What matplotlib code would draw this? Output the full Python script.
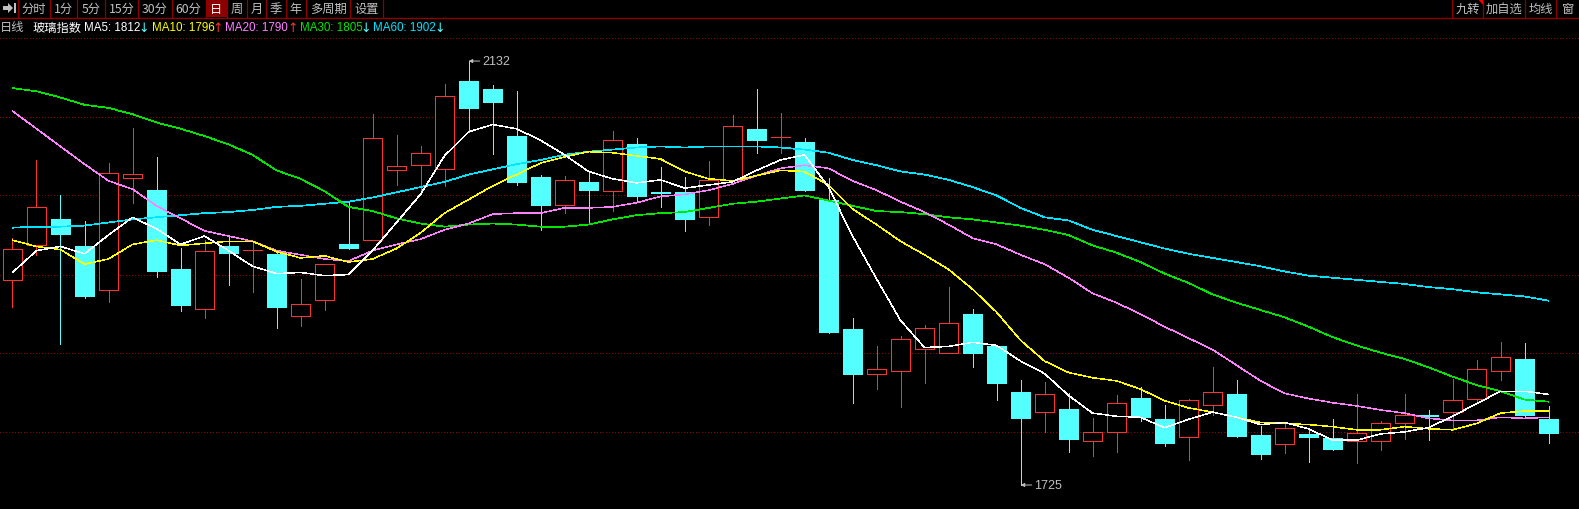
import matplotlib
matplotlib.use("Agg")
import matplotlib.pyplot as plt

plt.rcParams['font.family'] = ['Noto Sans CJK SC', 'DejaVu Sans']

# daily candles
opens = [1922,1955,1980,1954,1912,2020,2008,1932,1894,1954,1951,1947,1887,1903,1956,1960,2027,2032,2028,2113,2105,2060,
         2021,1994,2016,2007,2052,2006,2006,1982,2018,2067,2059,2054,1999,1875,1832,1834,1856,1852,1889,1858,1814,1795,
         1798,1767,1776,1809,1788,1771,1802,1812,1773,1764,1774,1770,1767,1767,1785,1792,1795,1808,1834,1846,1788]
highs = [1962,2037,2003,1978,2034,2068,2040,1953,1960,1964,1957,1950,1923,1937,1997,2081,2061,2050,2110,2132,2109,2103,
         2023,2022,2026,2065,2058,2030,2021,2036,2080,2105,2082,2058,2020,1885,1858,1868,1879,1915,1894,1858,1826,1824,
         1813,1789,1811,1819,1802,1808,1838,1826,1782,1784,1780,1788,1812,1786,1812,1797,1827,1845,1862,1861,1801]
lows = [1896,1946,1860,1905,1901,1996,1925,1892,1885,1917,1910,1876,1878,1893,1952,1960,2013,2005,2012,2064,2043,2013,
        1970,1986,1976,1988,1998,1992,1969,1975,2017,2044,2044,2007,1871,1804,1817,1800,1823,1852,1838,1807,1725,1776,
        1757,1753,1757,1786,1762,1749,1792,1771,1750,1756,1747,1759,1746,1759,1769,1768,1778,1805,1826,1789,1765]
closes = [1952,1992,1966,1906,2025,2024,1930,1898,1950,1948,1951,1896,1899,1937,1953,2058,2031,2044,2098,2087,2093,2016,
          1994,2018,2008,2056,2002,2005,1980,2018,2070,2056,2059,2008,1872,1832,1836,1865,1876,1881,1852,1823,1789,1812,
          1769,1776,1804,1790,1765,1807,1814,1772,1755,1780,1771,1760,1775,1785,1792,1791,1807,1836,1848,1792,1775]

ma5 = [1929,1950,1954,1947,1965,1982,1971,1956,1964,1950,1935,1928,1929,1926,1927,1950,1977,2004,2041,2064,2071,2067,
       2056,2042,2026,2019,2015,2018,2010,2013,2016,2027,2037,2042,2011,1964,1923,1883,1857,1858,1862,1859,1844,1832,
       1811,1794,1791,1790,1780,1788,1795,1790,1783,1785,1779,1768,1768,1774,1776,1780,1791,1803,1815,1815,1812]
ma10 = [1960,1954,1951,1937,1942,1956,1960,1955,1957,1959,1959,1949,1943,1945,1939,1942,1952,1967,1986,1999,2012,2023,
        2034,2040,2045,2044,2041,2038,2026,2019,2017,2022,2027,2026,2013,1990,1975,1959,1946,1932,1913,1891,1864,1844,
        1833,1828,1825,1817,1806,1799,1795,1790,1785,1784,1783,1781,1778,1778,1781,1779,1778,1784,1794,1796,1796]
ma20 = [2084,2067,2050,2033,2017,2009,1993,1981,1969,1964,1959,1950,1946,1942,1940,1950,1956,1961,1970,1976,1985,1986,
        1986,1991,1991,1992,1996,2002,2004,2008,2014,2022,2029,2032,2029,2017,2008,1997,1987,1975,1962,1956,1946,1937,
        1924,1909,1900,1889,1877,1866,1855,1840,1825,1813,1808,1804,1801,1797,1794,1789,1787,1787,1790,1789,1790]
ma30 = [2106,2103,2097,2090,2087,2081,2073,2067,2060,2052,2042,2027,2019,2007,1992,1988,1981,1976,1973,1975,1976,1975,
        1973,1973,1975,1980,1984,1986,1987,1991,1995,1997,2000,2003,1998,1993,1988,1987,1985,1982,1980,1977,1974,1970,
        1965,1955,1948,1939,1928,1919,1908,1900,1893,1886,1877,1867,1859,1852,1846,1838,1829,1821,1815,1807,1805]
ma60 = [1972,1973,1973,1974,1977,1980,1982,1984,1986,1987,1989,1992,1993,1995,1997,2001,2006,2011,2016,2023,2028,2033,
        2037,2042,2045,2047,2049,2050,2049,2050,2050,2050,2049,2047,2044,2037,2032,2026,2023,2018,2011,2003,1991,1982,
        1979,1970,1964,1958,1952,1947,1943,1939,1935,1930,1926,1924,1922,1920,1918,1915,1913,1910,1908,1906,1902]

grid_prices = [2154, 2078, 2003, 1927, 1852, 1776]

toolbar_labels = ['分时', '1分', '5分', '15分', '30分', '60分', '日', '周', '月', '季', '年', '多周期', '设置']
toolbar_edges = [17.5, 50, 77, 105, 138, 172, 205.5, 227, 247, 266, 286, 306, 350, 383]
right_labels = ['九转', '加自选', '均线', '窗']
right_edges = [1452, 1483, 1525, 1556, 1579]

RED = '#ff3232'
CYAN = '#54ffff'
DARKRED = '#8c0000'
GREY = '#c0c0c0'

fig = plt.figure(figsize=(15.79, 5.10), dpi=100, facecolor='black')
ax = fig.add_axes([0, 0, 1, 1], facecolor='black')
ax.set_xlim(-0.5208, 65.27)
ax.set_ylim(1701.96, 2191.56)
ax.axis('off')

for p in grid_prices:
    ax.axhline(p, color=DARKRED, lw=0.72, ls=(0, (0.7, 2.3)), zorder=1, antialiased=False)

# candles
xs = list(range(len(opens)))
for i in xs:
    up = closes[i] >= opens[i]
    col = RED if up else CYAN
    ax.vlines(i, lows[i], highs[i], color=col, lw=0.72, zorder=2, antialiased=False)
    bottom = min(opens[i], closes[i])
    height = abs(closes[i] - opens[i])
    ax.bar(i, height, bottom=bottom, width=0.76, facecolor='black' if up else CYAN, edgecolor=col,
           lw=0.72, zorder=3, antialiased=False)

ax.plot(xs, ma60, color='#00e5ff', lw=0.5, zorder=4, antialiased=False)
ax.plot(xs, ma30, color='#00e600', lw=0.5, zorder=5, antialiased=False)
ax.plot(xs, ma20, color='#ff80ff', lw=0.35, zorder=6, antialiased=False)
ax.plot(xs, ma10, color='#ffff00', lw=0.35, zorder=7, antialiased=False)
ax.plot(xs, ma5, color='#ffffff', lw=0.35, zorder=8, antialiased=False)

# high and low marks
hi = highs.index(max(highs))
lo = lows.index(min(lows))
for i, p in [(hi, highs[hi]), (lo, lows[lo])]:
    ax.annotate(str(p), xy=(i, p), xytext=(14, 0), textcoords='offset pixels', color=GREY, fontsize=9,
                family='Liberation Sans', va='center', ha='left', zorder=9,
                arrowprops=dict(arrowstyle='-|>,head_width=0.12,head_length=0.25', color=GREY, lw=0.7,
                                shrinkA=0, shrinkB=0))

# header, in pixels
top = fig.add_axes([0, 0, 1, 1], facecolor='none')
top.set_xlim(0, 1579)
top.set_ylim(510, 0)
top.axis('off')

top.axhline(18.5, color=DARKRED, lw=1.0)
top.axvspan(toolbar_edges[6], toolbar_edges[7], ymin=1 - 18 / 510, ymax=1, color=DARKRED, lw=0)
for e in toolbar_edges + right_edges[:-1]:
    top.plot([e, e], [0, 18], color=DARKRED, lw=0.9)

top.fill([3, 8, 8, 13, 8, 8, 3], [7, 7, 4, 9, 14, 11, 11], color=GREY, lw=0)
top.fill([14, 16, 16, 14], [4, 4, 14, 14], color=GREY, lw=0)

for k, lab in enumerate(toolbar_labels):
    top.text((toolbar_edges[k] + toolbar_edges[k + 1]) / 2, 9, lab, color=GREY if lab != '日' else 'white',
             fontsize=8.8, ha='center', va='center')
for k, lab in enumerate(right_labels):
    top.text((right_edges[k] + right_edges[k + 1]) / 2, 9, lab, color=GREY, fontsize=8.8, ha='center', va='center')
top.fill([1478, 1483, 1483], [0, 0, 6], color='#ff0000', lw=0)

top.text(0, 28, '日线', color=GREY, fontsize=8.8, va='center')
top.text(32, 28, '玻璃指数', color='white', fontsize=8.8, va='center')
legend = [(84, 'MA5: 1812', 'white', 143.7, '↓', CYAN),
          (151.5, 'MA10: 1796', '#ffff00', 218, '↑', RED),
          (225, 'MA20: 1790', '#ff80ff', 292.8, '↑', RED),
          (299.5, 'MA30: 1805', '#00e600', 365.5, '↓', CYAN),
          (373, 'MA60: 1902', '#00e5ff', 440, '↓', CYAN)]
for x0, lab, col, x1, arrow, acol in legend:
    top.text(x0, 28, lab, color=col, fontsize=8.4, family='Liberation Sans', va='center')
    top.text(x1, 28, arrow, color=acol, fontsize=9, family='DejaVu Sans', va='center', ha='center')

fig.savefig('out.png', dpi=100, facecolor='black')
